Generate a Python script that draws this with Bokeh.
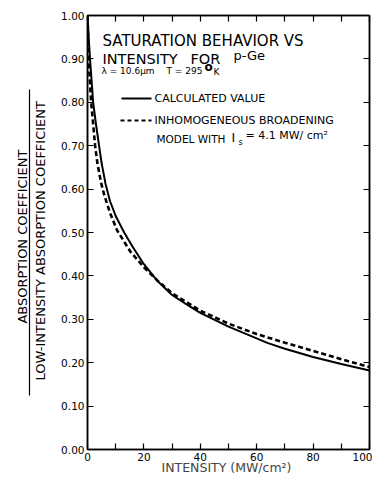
from bokeh.plotting import figure
from bokeh.models import Range1d, LinearAxis, FixedTicker
from bokeh.core.properties import value
from bokeh.embed import file_html
from bokeh.resources import INLINE

# --- data ---
calc_x = [0, 0.5, 1, 2, 3, 4.1, 5, 6.4, 8, 10, 13, 16, 20, 25, 30, 35, 40, 50, 64, 70, 80, 90, 100]
calc_y = [1.00, 0.94, 0.89, 0.80, 0.75, 0.70, 0.66, 0.612, 0.572, 0.538, 0.50, 0.467, 0.427, 0.387, 0.356, 0.335, 0.315, 0.283, 0.245, 0.232, 0.213, 0.197, 0.182]

model_x = [0, 0.4, 1.3, 2.7, 3.5, 4.8, 6, 8, 10.5, 15.3, 20, 25, 30, 40, 50, 60, 70, 80, 90, 100]
model_y = [1.00, 0.90, 0.80, 0.70, 0.66, 0.615, 0.585, 0.545, 0.505, 0.455, 0.42, 0.388, 0.36, 0.32, 0.29, 0.266, 0.246, 0.227, 0.208, 0.19]

x_ticks = [0, 10, 20, 30, 40, 50, 60, 70, 80, 90, 100]
x_labels = {0: "0", 10: "", 20: "20", 30: "", 40: "40", 50: "", 60: "60", 70: "", 80: "80", 90: "", 100: "100"}
y_ticks = [0.0, 0.1, 0.2, 0.3, 0.4, 0.5, 0.6, 0.7, 0.8, 0.9, 1.0]
y_labels = {t: f"{t:.2f}" for t in y_ticks}

FONT = "DejaVu Sans"
W, H = 372, 480

# frame placement (px) used only to place the free texts
FL, FR, FT, FB = 87.0, 369.0, 15.0, 449.0
xp = lambda px: (px - FL) / (FR - FL) * 100.0
yp = lambda py: (FB - py) / (FB - FT)

p = figure(width=W, height=H, output_backend="svg", toolbar_location=None,
           x_range=Range1d(0, 100), y_range=Range1d(0, 1.0),
           min_border_left=int(FL), min_border_right=int(W - FR),
           min_border_top=int(FT), min_border_bottom=int(H - FB),
           x_axis_label="INTENSITY  (MW/cm²)")
p.grid.visible = False
p.outline_line_color = "black"
p.outline_line_width = 1.5
p.background_fill_color = "white"
p.border_fill_color = "white"

def style_axis(ax, ticks, labels, show_labels=True):
    ax.ticker = FixedTicker(ticks=ticks)
    ax.axis_line_color = "black"
    ax.axis_line_width = 1.5
    ax.major_tick_in = 6
    ax.major_tick_out = 0
    ax.major_tick_line_color = "black"
    ax.major_tick_line_width = 1.2
    ax.minor_tick_line_color = None
    if show_labels:
        ax.major_label_overrides = labels
        ax.major_label_text_font = FONT
        ax.major_label_text_font_size = "10.5px"
        ax.major_label_text_color = "black"
        ax.major_label_standoff = 3
    else:
        ax.major_label_overrides = {t: "" for t in ticks}
        ax.major_label_standoff = 0
        ax.major_label_text_font_size = "1px"

style_axis(p.xaxis[0], x_ticks, x_labels)
style_axis(p.yaxis[0], y_ticks, y_labels)
p.xaxis[0].axis_label_text_font = FONT
p.xaxis[0].axis_label_text_font_size = "12.5px"
p.xaxis[0].axis_label_text_font_style = "normal"
p.xaxis[0].axis_label_standoff = -4
p.xaxis[0].major_label_standoff = 3

top = LinearAxis()
style_axis(top, x_ticks, x_labels, show_labels=False)
p.add_layout(top, "above")
right = LinearAxis()
style_axis(right, y_ticks, y_labels, show_labels=False)
p.add_layout(right, "right")

# two-line fraction label on the left, built from two bare axes
def label_axis(text, standoff, line=False, bounds=None):
    ax = LinearAxis(ticker=FixedTicker(ticks=[]))
    ax.axis_line_color = "black" if line else None
    ax.axis_line_width = 1.2
    ax.major_tick_line_color = None
    ax.minor_tick_line_color = None
    ax.major_label_standoff = 0
    ax.major_label_text_font_size = "1px"
    ax.axis_label = text
    ax.axis_label_text_font = FONT
    ax.axis_label_text_font_size = "13px"
    ax.axis_label_text_font_style = "normal"
    ax.axis_label_text_color = "black"
    ax.axis_label_standoff = standoff
    if bounds is not None:
        ax.bounds = bounds
    return ax

p.add_layout(label_axis("LOW-INTENSITY   ABSORPTION   COEFFICIENT", 11), "left")
p.add_layout(label_axis("ABSORPTION   COEFFICIENT", 0, line=True, bounds=(0.124, 0.83)), "left")

# curves
p.line(calc_x, calc_y, line_color="black", line_width=2)
p.line(model_x, model_y, line_color="black", line_width=2.6, line_dash="5 3")

# in-plot texts
def tx(px, py, s, size="13px", style="normal"):
    p.text([xp(px)], [yp(py)], text=[s], text_font=value(FONT), text_font_size=size,
           text_font_style=style, text_color="black", text_baseline="middle", text_align="left")

tx(102, 40, "SATURATION  BEHAVIOR  VS", "15px")
tx(102, 58, "INTENSITY", "14.5px")
tx(190, 58, "FOR", "14.5px")
tx(233, 55, "p-Ge", "13px")
tx(101, 70, "λ = 10.6μm", "9px")
tx(166, 70, "T = 295", "9px")
tx(204, 66, "o", "12px", "bold")
tx(213, 71, "K", "9px")

# legend (drawn by hand)
p.line([xp(121), xp(151)], [yp(98), yp(98)], line_color="black", line_width=2)
tx(154, 98, "CALCULATED  VALUE", "11px")
p.line([xp(120), xp(151)], [yp(120), yp(120)], line_color="black", line_width=2.2, line_dash="4 3")
tx(154, 120, "INHOMOGENEOUS  BROADENING", "11px")
tx(156, 138, "MODEL  WITH", "10.5px")
tx(231, 137, "I", "12.5px")
tx(238, 142, "s", "8px")
tx(245, 135, "= 4.1 MW/ cm²", "11px")

open("out.html", "w").write(file_html(p, INLINE))
